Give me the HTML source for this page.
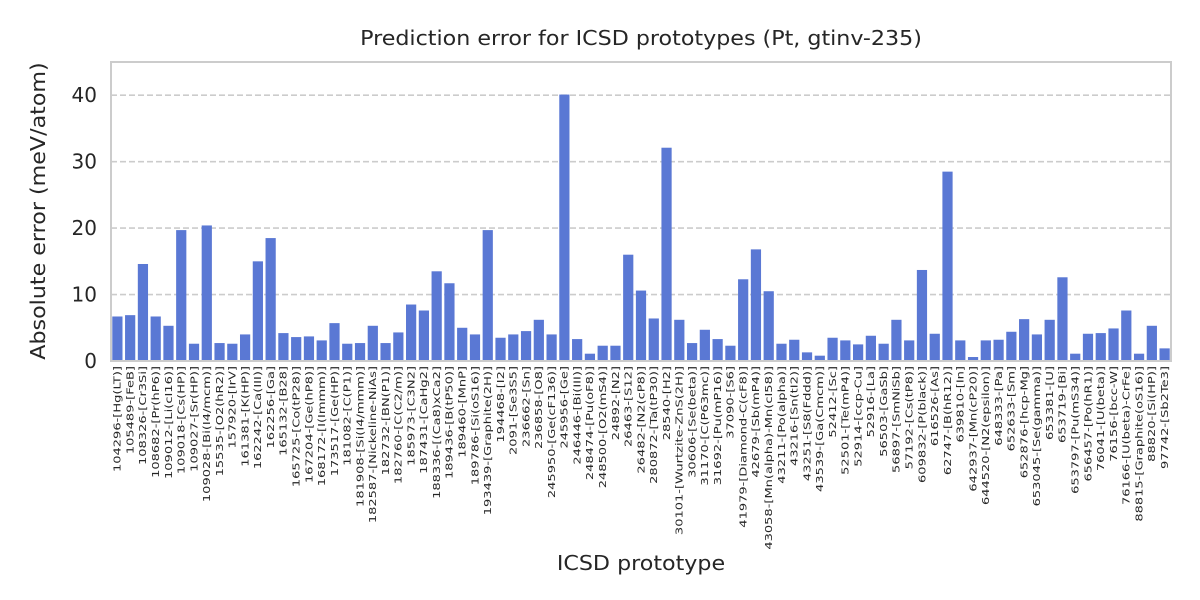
<!DOCTYPE html>
<html><head><meta charset="utf-8"><style>
body{margin:0;background:#fff;}
svg{display:block;font-family:"DejaVu Sans","Liberation Sans",sans-serif;}
</style></head><body>
<svg id="chart" width="1200" height="600">
<rect width="1200" height="600" fill="#fff"/>
<text x="641" y="45" text-anchor="middle" font-size="20" fill="#262626" transform="translate(641,0) scale(1.11,1) translate(-641,0)">Prediction error for ICSD prototypes (Pt, gtinv-235)</text>
<g id="grid"></g><g id="bars"></g><g id="yticks"></g><g id="xticks"></g>
<rect x="111" y="62" width="1060" height="299" fill="none" stroke="#cccccc" stroke-width="2"/>
<text x="641" y="570" text-anchor="middle" font-size="20" fill="#262626" transform="translate(641,0) scale(1.11,1) translate(-641,0)">ICSD prototype</text>
<text transform="translate(45,211) rotate(-90) scale(1.11,1)" text-anchor="middle" font-size="20" fill="#262626">Absolute error (meV/atom)</text>
</svg>
<script>
const categories=["104296-[Hg(LT)]","105489-[FeB]","108326-[Cr3Si]","108682-[Pr(hP6)]","109012-[Li(cI16)]","109018-[Cs(HP)]","109027-[Sr(HP)]","109028-[Bi(I4/mcm)]","15535-[O2(hR2)]","157920-[IrV]","161381-[K(HP)]","162242-[Ca(III)]","162256-[Ga]","165132-[B28]","165725-[Co(tP28)]","167204-[Ge(hP8)]","168172-[I(Immm)]","173517-[Ge(HP)]","181082-[C(P1)]","181908-[Si(I4/mmm)]","182587-[Nickeline-NiAs]","182732-[BN(P1)]","182760-[C(C2/m)]","185973-[C3N2]","187431-[CaHg2]","188336-[(Ca8)xCa2]","189436-[B(tP50)]","189460-[MnP]","189786-[Si(oS16)]","193439-[Graphite(2H)]","194468-[I2]","2091-[Se3S5]","236662-[Sn]","236858-[O8]","245950-[Ge(cF136)]","245956-[Ge]","246446-[Bi(III)]","248474-[Pu(oF8)]","248500-[O2(mS4)]","24892-[N2]","26463-[S12]","26482-[N2(cP8)]","280872-[Ta(tP30)]","28540-[H2]","30101-[Wurtzite-ZnS(2H)]","30606-[Se(beta)]","31170-[C(P63mc)]","31692-[Pu(mP16)]","37090-[S6]","41979-[Diamond-C(cF8)]","42679-[Sb(mP4)]","43058-[Mn(alpha)-Mn(cI58)]","43211-[Po(alpha)]","43216-[Sn(tI2)]","43251-[S8(Fddd)]","43539-[Ga(Cmcm)]","52412-[Sc]","52501-[Te(mP4)]","52914-[ccp-Cu]","52916-[La]","56503-[GaSb]","56897-[SmNiSb]","57192-[Cs(tP8)]","609832-[P(black)]","616526-[As]","62747-[B(hR12)]","639810-[In]","642937-[Mn(cP20)]","644520-[N2(epsilon)]","648333-[Pa]","652633-[Sm]","652876-[hcp-Mg]","653045-[Se(gamma)]","653381-[U]","653719-[Bi]","653797-[Pu(mS34)]","656457-[Po(hR1)]","76041-[U(beta)]","76156-[bcc-W]","76166-[U(beta)-CrFe]","88815-[Graphite(oS16)]","88820-[Si(HP)]","97742-[Sb2Te3]"];
const errors=[6.7,6.9,14.6,6.7,5.3,19.7,2.6,20.4,2.7,2.6,4.0,15.0,18.5,4.2,3.6,3.7,3.1,5.7,2.6,2.7,5.3,2.7,4.3,8.5,7.6,13.5,11.7,5.0,4.0,19.7,3.5,4.0,4.5,6.2,4.0,40.1,3.3,1.1,2.3,2.3,16.0,10.6,6.4,32.1,6.2,2.7,4.7,3.3,2.3,12.3,16.8,10.5,2.6,3.2,1.3,0.8,3.5,3.1,2.5,3.8,2.6,6.2,3.1,13.7,4.1,28.5,3.1,0.6,3.1,3.2,4.4,6.3,4.0,6.2,12.6,1.1,4.1,4.2,4.9,7.6,1.1,5.3,1.9];
const yTicks=[0,10,20,30,40];
const yMax=45;
const NS="http://www.w3.org/2000/svg";
const L=111,R=1171,T=62,B=361;
const step=(R-L)/categories.length;
const xc=i=>L+step*(i+0.5);
const y=v=>B-(v/yMax)*(B-T);
function mk(tag,attrs,parent){const e=document.createElementNS(NS,tag);for(const k in attrs)e.setAttribute(k,attrs[k]);document.getElementById(parent).appendChild(e);return e;}
yTicks.forEach(t=>{
  if(t>0){const g=mk('line',{x1:L,x2:R,y1:y(t),y2:y(t),stroke:'#cccccc','stroke-width':1.6,'stroke-dasharray':'6,3'},'grid');
  
  }
  const tx=mk('text',{x:L-14,y:y(t)+7,'text-anchor':'end','font-size':20,fill:'#262626'},'yticks');
  tx.textContent=t;
  
  
});
const bw=step*0.8;
errors.forEach((v,i)=>{
  const r=mk('rect',{x:xc(i)-bw/2,y:y(v),width:bw,height:B-y(v),fill:'#5a78d4'},'bars');
  
  
});
categories.forEach((c,i)=>{
  const t=mk('text',{transform:`translate(${xc(i)+3.3},366) rotate(-90) scale(1.4,1)`,'text-anchor':'end','font-size':9.3,fill:'#262626'},'xticks');
  t.textContent=c;
  
  
});
</script>
</body></html>
